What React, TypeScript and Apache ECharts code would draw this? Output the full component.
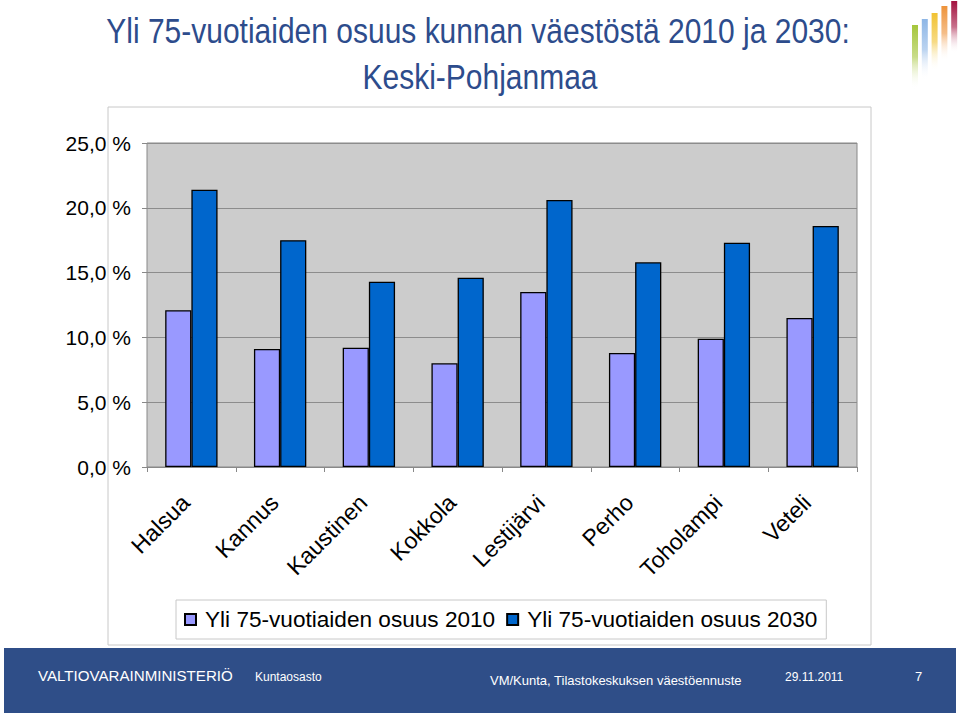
import React, { useEffect, useRef } from "react";
import * as echarts from "echarts";

const categories = ["Halsua", "Kannus", "Kaustinen", "Kokkola", "Lestijärvi", "Perho", "Toholampi", "Veteli"];
const share2010 = [12.1, 9.1, 9.2, 8.0, 13.5, 8.8, 9.9, 11.5];
const share2030 = [21.4, 17.5, 14.3, 14.6, 20.6, 15.8, 17.3, 18.6];
const seriesNames = ["Yli 75-vuotiaiden osuus 2010", "Yli 75-vuotiaiden osuus 2030"];
const titleLines = ["Yli 75-vuotiaiden osuus kunnan väestöstä 2010 ja 2030:", "Keski-Pohjanmaa"];
const footerTexts = {
  ministry: "VALTIOVARAINMINISTERIÖ",
  dept: "Kuntaosasto",
  source: "VM/Kunta, Tilastokeskuksen väestöennuste",
  date: "29.11.2011",
  page: "7",
};
const logoColors = ["#A5C63B", "#8DB6E6", "#F1C232", "#EE933A", "#A3123F"];
const logoTops = [25, 19, 13, 6, 1];

const FONT = "Liberation Sans, Arial, sans-serif";

export default function App() {
  const ref = useRef<HTMLDivElement>(null);
  useEffect(() => {
    if (!ref.current) return;
    const chart = echarts.init(ref.current, undefined, { renderer: "svg" });
    const logo = logoColors.map((c, i) => ({
      type: "rect",
      z: 10,
      shape: { x: 912 + i * 9.8, y: logoTops[i], width: 6, height: 64 - i * 3 },
      style: {
        fill: new echarts.graphic.LinearGradient(0, 0, 0, 1, [
          { offset: 0, color: c },
          { offset: 0.5, color: c + "99" },
          { offset: 1, color: "rgba(255,255,255,0)" },
        ]),
      },
    }));
    chart.setOption({
      animation: false,
      backgroundColor: "#ffffff",
      graphic: [
        {
          type: "rect",
          z: -10,
          shape: { x: 108, y: 107, width: 763, height: 538 },
          style: { fill: "#ffffff", stroke: "#C8C8C8", lineWidth: 1 },
        },
        {
          type: "text",
          x: 478,
          y: 14,
          scaleY: 1.15,
          style: {
            text: titleLines[0],
            fill: "#2D4C8C",
            font: `30px ${FONT}`,
            textAlign: "center",
          },
        },
        {
          type: "text",
          x: 480,
          y: 60,
          scaleY: 1.15,
          style: {
            text: titleLines[1],
            fill: "#2D4C8C",
            font: `30px ${FONT}`,
            textAlign: "center",
          },
        },
        {
          type: "rect",
          shape: { x: 4, y: 648, width: 952, height: 65 },
          style: { fill: "#2F4E88" },
        },
        {
          type: "text",
          x: 38,
          y: 669,
          scaleX: 1.08,
          style: { text: footerTexts.ministry, fill: "#ffffff", font: `14px ${FONT}` },
        },
        {
          type: "text",
          x: 255,
          y: 671,
          style: { text: footerTexts.dept, fill: "#ffffff", font: `12px ${FONT}` },
        },
        {
          type: "text",
          x: 490,
          y: 674,
          style: { text: footerTexts.source, fill: "#ffffff", font: `13px ${FONT}` },
        },
        {
          type: "text",
          x: 785,
          y: 671,
          style: { text: footerTexts.date, fill: "#ffffff", font: `12px ${FONT}` },
        },
        {
          type: "text",
          x: 915,
          y: 670,
          style: { text: footerTexts.page, fill: "#ffffff", font: `13px ${FONT}` },
        },
        ...logo,
      ],
      legend: {
        left: 176,
        top: 600,
        padding: [8, 9, 8, 8],
        itemGap: 11,
        itemWidth: 11,
        itemHeight: 11,
        icon: "rect",
        backgroundColor: "#ffffff",
        borderColor: "#C8C8C8",
        borderWidth: 1,
        data: seriesNames,
        textStyle: { fontSize: 22.6, fontFamily: FONT, color: "#000", padding: [0, 0, 0, 4] },
      },
      grid: {
        left: 147,
        right: 103,
        top: 143,
        bottom: 249,
        show: true,
        backgroundColor: "#CCCCCC",
        borderColor: "#888888",
        borderWidth: 1,
      },
      xAxis: {
        type: "category",
        data: categories,
        axisLine: { lineStyle: { color: "#888888" } },
        axisTick: { show: true, length: 5, lineStyle: { color: "#888888" } },
        axisLabel: {
          rotate: 45,
          fontSize: 23,
          fontFamily: FONT,
          color: "#000",
          margin: 26,
          padding: [0, 8, 0, 0],
        },
      },
      yAxis: {
        type: "value",
        min: 0,
        max: 25,
        interval: 5,
        axisLine: { show: false },
        axisTick: { show: true, length: 5, lineStyle: { color: "#888888" } },
        splitLine: { lineStyle: { color: "#8C8C8C", width: 1 } },
        axisLabel: {
          fontSize: 21,
          fontFamily: FONT,
          color: "#000",
          margin: 16,
          formatter: (v: number) => v.toFixed(1).replace(".", ",") + " %",
        },
      },
      series: [
        {
          name: seriesNames[0],
          type: "bar",
          data: share2010,
          barGap: "0%",
          barCategoryGap: "41%",
          itemStyle: { color: "#9999FF", borderColor: "#000", borderWidth: 1.3 },
        },
        {
          name: seriesNames[1],
          type: "bar",
          data: share2030,
          barGap: "0%",
          barCategoryGap: "41%",
          itemStyle: { color: "#0066CC", borderColor: "#000", borderWidth: 1.3 },
        },
      ],
    });
    return () => chart.dispose();
  }, []);
  return (
    <div
      ref={ref}
      style={{ position: "absolute", left: 0, top: 0, width: 960, height: 716 }}
    />
  );
}
